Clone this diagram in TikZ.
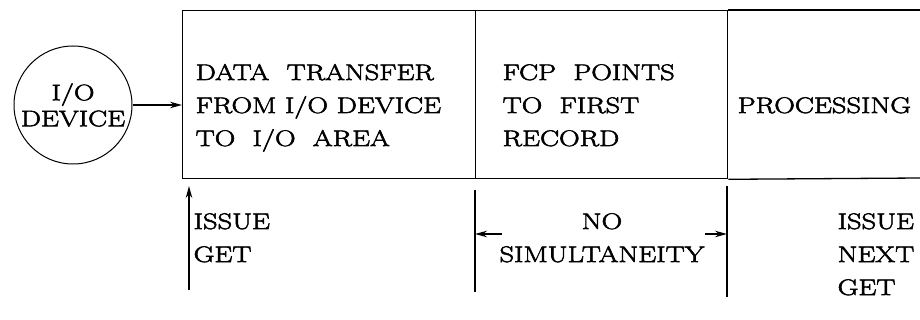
\documentclass[tikz,border=0pt]{standalone}
\usepackage{fontspec}
\setmainfont{Latin Modern Roman}[FakeBold=2.5,FakeStretch=1.27]
\usetikzlibrary{arrows.meta}
\begin{document}
\begin{tikzpicture}[x=1pt,y=-1pt,line width=1.3pt,
  txt/.style={inner sep=0pt,align=left,font=\fontsize{22.5}{33}\selectfont},
  tip/.style={-{Stealth[length=12pt,width=6.5pt]}}]
\useasboundingbox (0,0) rectangle (920,320);
% boxes
\node[draw,minimum width=293pt,minimum height=168pt,inner sep=0pt,anchor=north west] (b1) at (182,10) {};
\node[draw,minimum width=252pt,minimum height=168pt,inner sep=0pt,anchor=north west] (b2) at (475,10) {};
\coordinate (b3ne) at (920,10);
\coordinate (b3se) at (920,178);
\draw (b2.north east) -- (b3ne);
\draw (b2.south east) -- (b3se);
% device
\node[draw,circle,line width=1pt,minimum size=118pt,inner sep=0pt,txt,align=center,font=\fontsize{22.5}{26}\selectfont] (dev) at (73,105) {I/O\\DEVICE};
\draw[tip] (dev.east) -- (dev.east -| b1.west);
% box texts
\node[txt,anchor=base west] (t1) at (195,80) {DATA\ \ TRANSFER};
\node[txt,anchor=base west] (t1b) at (195,113) {FROM I/O DEVICE};
\node[txt,anchor=base west] (t1c) at (195,146) {TO\ \ I/O\ \ AREA};
\node[txt,anchor=base west] (t2) at (502,80) {FCP\ \ POINTS};
\node[txt,anchor=base west] (t2b) at (502,113) {TO\ \ FIRST};
\node[txt,anchor=base west] (t2c) at (502,146) {RECORD};
\node[txt,anchor=base west] (t3) at (737,113) {PROCESSING};
% below
\coordinate (g1) at (189,290);
\coordinate (g1t) at (189,186);
\draw[tip] (g1) -- (g1t);
\node[txt,anchor=base west] (l1) at (193,229) {ISSUE};
\node[txt,anchor=base west] (l1b) at (193,262) {GET};
\coordinate (v1a) at (475,190);
\coordinate (v1b) at (475,292);
\coordinate (v2a) at (727,186);
\coordinate (v2b) at (727,297);
\draw (v1a) -- (v1b);
\draw (v2a) -- (v2b);
\coordinate (a1s) at (502,234);
\coordinate (a1e) at (475,234);
\coordinate (a2s) at (705,234);
\coordinate (a2e) at (727,234);
\draw[tip] (a1s) -- (a1e);
\draw[tip] (a2s) -- (a2e);
\node[txt,anchor=base] (ns) at (602,229) {NO};
\node[txt,anchor=base] (ns2) at (602,262) {SIMULTANEITY};
\node[txt,anchor=base west] (r1) at (837,229) {ISSUE};
\node[txt,anchor=base west] (r2) at (837,262) {NEXT};
\node[txt,anchor=base west] (r3) at (837,295) {GET};
\end{tikzpicture}
\end{document}
